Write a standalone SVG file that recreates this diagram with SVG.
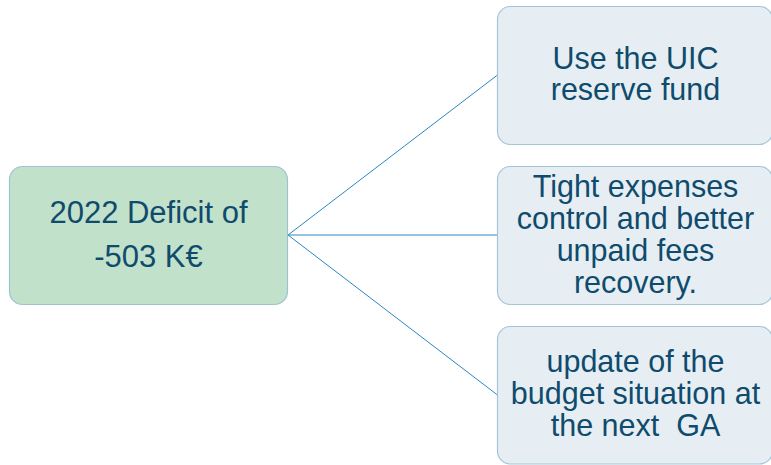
<svg xmlns="http://www.w3.org/2000/svg" width="771" height="465" viewBox="0 0 771 465">
  <style>
    .box { stroke-width: 1.2; }
    .root { fill: #c2e1cb; stroke: #9fc2d2; }
    .leaf { fill: #e6eef3; stroke: #a5c6da; }
    .label { font-family: "Liberation Sans", Arial, sans-serif; font-size: 30.5px; fill: #0f4b6c; text-anchor: middle; }
    .big { font-size: 31px; }
    .link { stroke: #2b86c0; stroke-width: 1; fill: none; }
  </style>
  <rect width="771" height="465" fill="#ffffff"/>

  <g id="connectors">
    <line class="link" x1="288" y1="235" x2="497.5" y2="75"/>
    <line class="link" x1="288" y1="235" x2="497.5" y2="235"/>
    <line class="link" x1="288" y1="235" x2="497.5" y2="395"/>
  </g>

  <g id="deficit">
    <rect class="box root" x="9.5" y="166.5" width="278" height="138" rx="13"/>
    <text class="label big" x="148.5" y="223">2022 Deficit of</text>
    <text class="label big" x="148.5" y="267">-503 K€</text>
  </g>

  <g id="reserve-fund">
    <rect class="box leaf" x="497.5" y="6.5" width="275" height="138" rx="13"/>
    <text class="label" x="635.5" y="69">Use the UIC</text>
    <text class="label" x="635.5" y="100">reserve fund</text>
  </g>

  <g id="expenses-control">
    <rect class="box leaf" x="497.5" y="166.5" width="275" height="138" rx="13"/>
    <text class="label" x="635.5" y="197">Tight expenses</text>
    <text class="label" x="635.5" y="229">control and better</text>
    <text class="label" x="635.5" y="261">unpaid fees</text>
    <text class="label" x="635.5" y="293">recovery.</text>
  </g>

  <g id="budget-update">
    <rect class="box leaf" x="497.5" y="326.5" width="275" height="137.5" rx="13"/>
    <text class="label" x="635.5" y="372">update of the</text>
    <text class="label" x="635.5" y="404">budget situation at</text>
    <text class="label" x="635.5" y="436" xml:space="preserve">the next  GA</text>
  </g>
</svg>
